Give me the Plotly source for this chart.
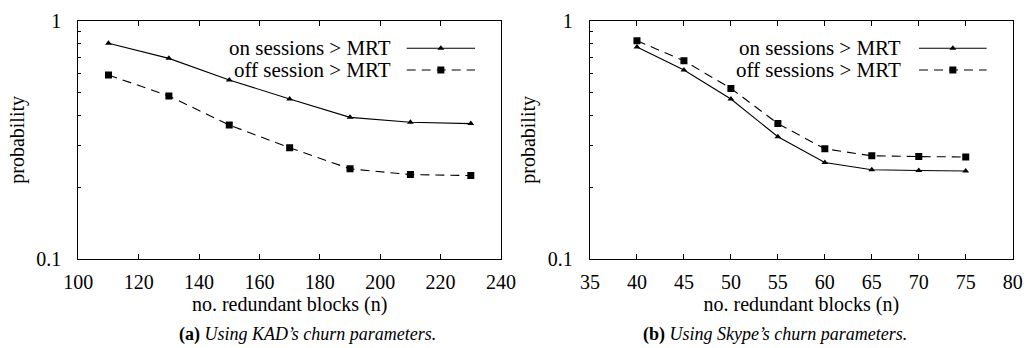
import plotly.graph_objects as go

# ---- data ----
kad_n = [110, 130, 150, 170, 190, 210, 230]
kad_on = [0.804, 0.695, 0.564, 0.469, 0.393, 0.375, 0.370]
kad_off = [0.592, 0.483, 0.365, 0.293, 0.239, 0.226, 0.224]

sky_n = [40, 45, 50, 55, 60, 65, 70, 75]
sky_on = [0.776, 0.621, 0.469, 0.326, 0.254, 0.237, 0.235, 0.234]
sky_off = [0.824, 0.679, 0.520, 0.370, 0.290, 0.271, 0.269, 0.268]

kad_labels = ["on sessions > MRT", "off session > MRT"]
sky_labels = ["on sessions > MRT", "off sessions > MRT"]
captions = ["<b>(a)</b> <i>Using KAD’s churn parameters.</i>",
            "<b>(b)</b> <i>Using Skype’s churn parameters.</i>"]

W, H = 1027, 348
FONT = "'Liberation Serif', 'Times New Roman', Times, serif"
DASH = "9px,6px"

fig = go.Figure()

def add_series(x, y, xa, ya, dash, symbol, size):
    fig.add_trace(go.Scatter(
        x=x, y=y, xaxis=xa, yaxis=ya, mode="lines+markers",
        line=dict(color="black", width=1.1, dash=dash),
        marker=dict(symbol=symbol, size=size, color="black"),
        showlegend=False, hoverinfo="skip"))

add_series(kad_n, kad_on, "x", "y", "solid", "triangle-up", 6)
add_series(kad_n, kad_off, "x", "y", DASH, "square", 7)
add_series(sky_n, sky_on, "x2", "y2", "solid", "triangle-up", 6)
add_series(sky_n, sky_off, "x2", "y2", DASH, "square", 7)

# legend samples on an overlay axis measured in pixels
def legend_sample(x0, x1, ypix, dash, symbol, size):
    xm = (x0 + x1) / 2
    fig.add_trace(go.Scatter(
        x=[x0, x1], y=[ypix, ypix], xaxis="x3", yaxis="y3", mode="lines",
        line=dict(color="black", width=1.1, dash=dash),
        showlegend=False, hoverinfo="skip"))
    fig.add_trace(go.Scatter(
        x=[xm], y=[ypix], xaxis="x3", yaxis="y3", mode="markers",
        marker=dict(symbol=symbol, size=size, color="black"),
        showlegend=False, hoverinfo="skip"))

legend_sample(406.7, 475, 48.3, "solid", "triangle-up", 6)
legend_sample(406.7, 475, 70, DASH, "square", 7)
legend_sample(919, 986.7, 48.3, "solid", "triangle-up", 6)
legend_sample(919, 986.7, 70, DASH, "square", 7)

ydom = [1 - 259 / H, 1 - 20.7 / H]
common_x = dict(
    showgrid=False, zeroline=False, showline=True, linecolor="black", linewidth=1.3,
    mirror="ticks", ticks="inside", ticklen=5, tickcolor="black", tickwidth=1,
    ticklabelstandoff=5,
    tickfont=dict(family=FONT, size=20, color="black"),
    title=dict(text="no. redundant blocks (n)",
               font=dict(family=FONT, size=20, color="black"), standoff=2),
    automargin=False)
common_y = dict(
    type="log", range=[-1, 0], showgrid=False, zeroline=False, showline=True,
    linecolor="black", linewidth=1.3, mirror=True,
    ticks="inside", ticklen=3, tickcolor="black",
    tickvals=[0.1, 1], ticktext=["0.1", "1"], ticklabelstandoff=12,
    minor=dict(tickvals=[0.2, 0.3, 0.4, 0.5, 0.6, 0.7, 0.8, 0.9],
               ticks="inside", ticklen=3, tickcolor="black", showgrid=False),
    tickfont=dict(family=FONT, size=20, color="black"),
    title=dict(text="probability", font=dict(family=FONT, size=20, color="black"),
               standoff=6),
    automargin=False, domain=ydom)

fig.update_layout(
    width=W, height=H, margin=dict(l=0, r=0, t=0, b=0),
    paper_bgcolor="white", plot_bgcolor="rgba(0,0,0,0)",
    font=dict(family=FONT, color="black"),
    xaxis=dict(common_x, domain=[78.3 / W, 501 / W], range=[100, 240], dtick=20,
               tick0=100, anchor="y"),
    yaxis=dict(common_y, anchor="x"),
    xaxis2=dict(common_x, domain=[590 / W, 1012.7 / W], range=[35, 80], dtick=5,
                tick0=35, anchor="y2"),
    yaxis2=dict(common_y, anchor="x2"),
    xaxis3=dict(domain=[0, 1], range=[0, W], visible=False, anchor="y3", fixedrange=True),
    yaxis3=dict(domain=[0, 1], range=[H, 0], visible=False, anchor="x3", fixedrange=True),
)

anns = []
for xr, labels in [(392.7, kad_labels), (903.3, sky_labels)]:
    for i, lab in enumerate(labels):
        anns.append(dict(x=xr / W, y=1 - [48.3, 70][i] / H, xref="paper", yref="paper",
                         text=lab, showarrow=False, xanchor="right", yanchor="middle",
                         font=dict(family=FONT, size=21, color="black")))
for xc, cap in [(307.5, captions[0]), (774.7, captions[1])]:
    anns.append(dict(x=xc / W, y=1 - 334 / H, xref="paper", yref="paper", text=cap,
                     showarrow=False, xanchor="center", yanchor="middle",
                     font=dict(family=FONT, size=18, color="black")))
fig.update_layout(annotations=anns)

fig.write_html("out.html")
